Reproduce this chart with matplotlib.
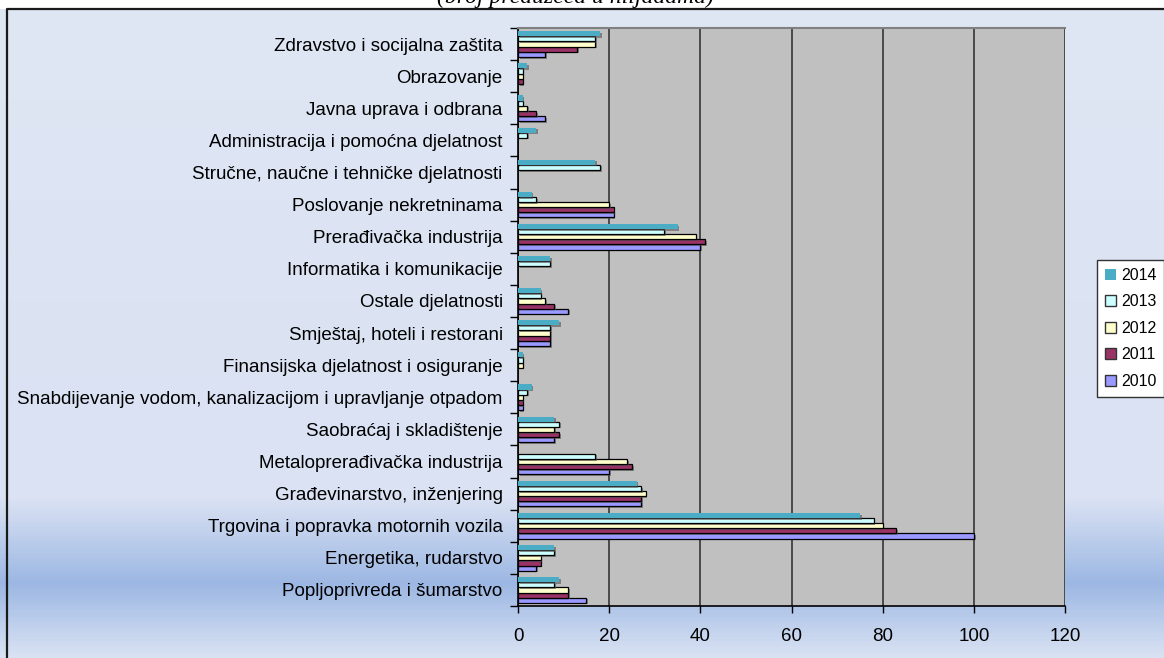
import numpy as np
import matplotlib.pyplot as plt
import matplotlib.patheffects as pe
from matplotlib.patches import Patch, Rectangle
from matplotlib.colors import LinearSegmentedColormap

# Sectors listed bottom to top as they appear on the y axis
sectors = [
    "Popljoprivreda i šumarstvo",
    "Energetika, rudarstvo",
    "Trgovina i popravka motornih vozila",
    "Građevinarstvo, inženjering",
    "Metaloprerađivačka industrija",
    "Saobraćaj i skladištenje",
    "Snabdijevanje vodom, kanalizacijom i upravljanje otpadom",
    "Finansijska djelatnost i osiguranje",
    "Smještaj, hoteli i restorani",
    "Ostale djelatnosti",
    "Informatika i komunikacije",
    "Prerađivačka industrija",
    "Poslovanje nekretninama",
    "Stručne, naučne i tehničke djelatnosti",
    "Administracija i pomoćna djelatnost",
    "Javna uprava i odbrana",
    "Obrazovanje",
    "Zdravstvo i socijalna zaštita",
]

years = ["2010", "2011", "2012", "2013", "2014"]

v2010 = [15, 4, 100, 27, 20, 8, 1, 0, 7, 11, 0, 40, 21, 0, 0, 6, 0, 6]
v2011 = [11, 5, 83, 27, 25, 9, 1, 0, 7, 8, 0, 41, 21, 0, 0, 4, 1, 13]
v2012 = [11, 5, 80, 28, 24, 8, 1, 1, 7, 6, 0, 39, 20, 0, 0, 2, 1, 17]
v2013 = [8, 8, 78, 27, 17, 9, 2, 1, 7, 5, 7, 32, 4, 18, 2, 1, 1, 17]
v2014 = [9, 8, 75, 26, 0, 8, 3, 1, 9, 5, 7, 35, 3, 17, 4, 1, 2, 18]

series = [v2010, v2011, v2012, v2013, v2014]
colors = ["#9999ff", "#993366", "#ffffcc", "#ccffff", "#4bacc6"]
edges = ["black", "black", "black", "black", "none"]

W, H = 1164, 658
fig = plt.figure(figsize=(W / 100, H / 100), dpi=100)
plt.rcParams["font.family"] = ["Liberation Sans", "DejaVu Sans"]

# background: pale blue with a darker band near the bottom
bg = fig.add_axes([0, 0, 1, 1], zorder=-10)
bg.axis("off")
stops = [(0.0, "#dfe6f4"), (500 / H, "#dae2f3"), (585 / H, "#9cb7e3"), (1.0, "#d9e2f3")]
cmap = LinearSegmentedColormap.from_list("bgfade", stops)
grad = np.linspace(0, 1, 400).reshape(-1, 1)
bg.imshow(grad, aspect="auto", cmap=cmap, extent=[0, 1, 0, 1], origin="upper")
bg.set_xlim(0, 1)
bg.set_ylim(0, 1)
# white strip above the chart frame
bg.add_patch(Rectangle((0, 1 - 9 / H), 1, 9 / H, facecolor="white", edgecolor="none"))
bg.plot([7 / W, 7 / W, 1], [0, 1 - 9 / H, 1 - 9 / H], color="#1a1a1a", lw=1.6)

# chart title, only its lower edge fits above the frame
fig.text(0.494, 1 - 3 / H, "(broj preduzeća u hiljadama)", ha="center", va="baseline",
         fontsize=17, style="italic", family="Liberation Serif")

ax = fig.add_axes([518 / W, 1 - 606 / H, (1065 - 518) / W, (606 - 28) / H])
ax.set_facecolor("#c0c0c0")

y = np.arange(len(sectors))
bh = 0.16
shadow = [pe.SimplePatchShadow(offset=(1.2, -1.2), shadow_rgbFace="#555555", alpha=0.6), pe.Normal()]
for i, (vals, c, ec, yr) in enumerate(zip(series, colors, edges, years)):
    bars = ax.barh(y - 0.32 + i * bh, vals, height=bh, color=c, edgecolor=ec,
                   linewidth=0.9, label=yr, zorder=3)
    for b in bars:
        if b.get_width() > 0:
            b.set_path_effects(shadow)
        else:
            b.set_visible(False)

ax.set_xlim(0, 120)
ax.set_ylim(-0.5, len(sectors) - 0.5)
ax.set_xticks(np.arange(0, 121, 20))
ax.xaxis.grid(True, color="#404040", lw=1.3, zorder=1)
ax.set_axisbelow(True)

ax.set_yticks(y)
ax.set_yticklabels(sectors, fontsize=13.5)
ax.set_yticks(np.arange(-0.5, len(sectors), 1), minor=True)
ax.tick_params(axis="y", which="major", length=0, pad=11)
ax.tick_params(axis="y", which="minor", length=6, width=1, direction="out")
ax.tick_params(axis="x", length=5, width=1, direction="out", labelsize=13.5, pad=11)

for s in ["left", "bottom"]:
    ax.spines[s].set_color("black")
    ax.spines[s].set_linewidth(1.2)
ax.spines["top"].set_color("#808080")
ax.spines["top"].set_linewidth(1.5)
ax.spines["right"].set_visible(False)

handles = [Patch(facecolor=c, edgecolor=("none" if ec == "none" else "#333333"), label=yr)
           for c, ec, yr in zip(colors, edges, years)][::-1]
leg = fig.legend(handles=handles, loc="upper left",
                 bbox_to_anchor=(1097 / W, 1 - 260 / H), fontsize=11.5,
                 handlelength=0.7, handleheight=0.7, handletextpad=0.3,
                 labelspacing=0.72, borderpad=0.5, borderaxespad=0, fancybox=False,
                 framealpha=1, edgecolor="#333333")
leg.get_frame().set_linewidth(1.0)

fig.savefig("out.png", dpi=100)
